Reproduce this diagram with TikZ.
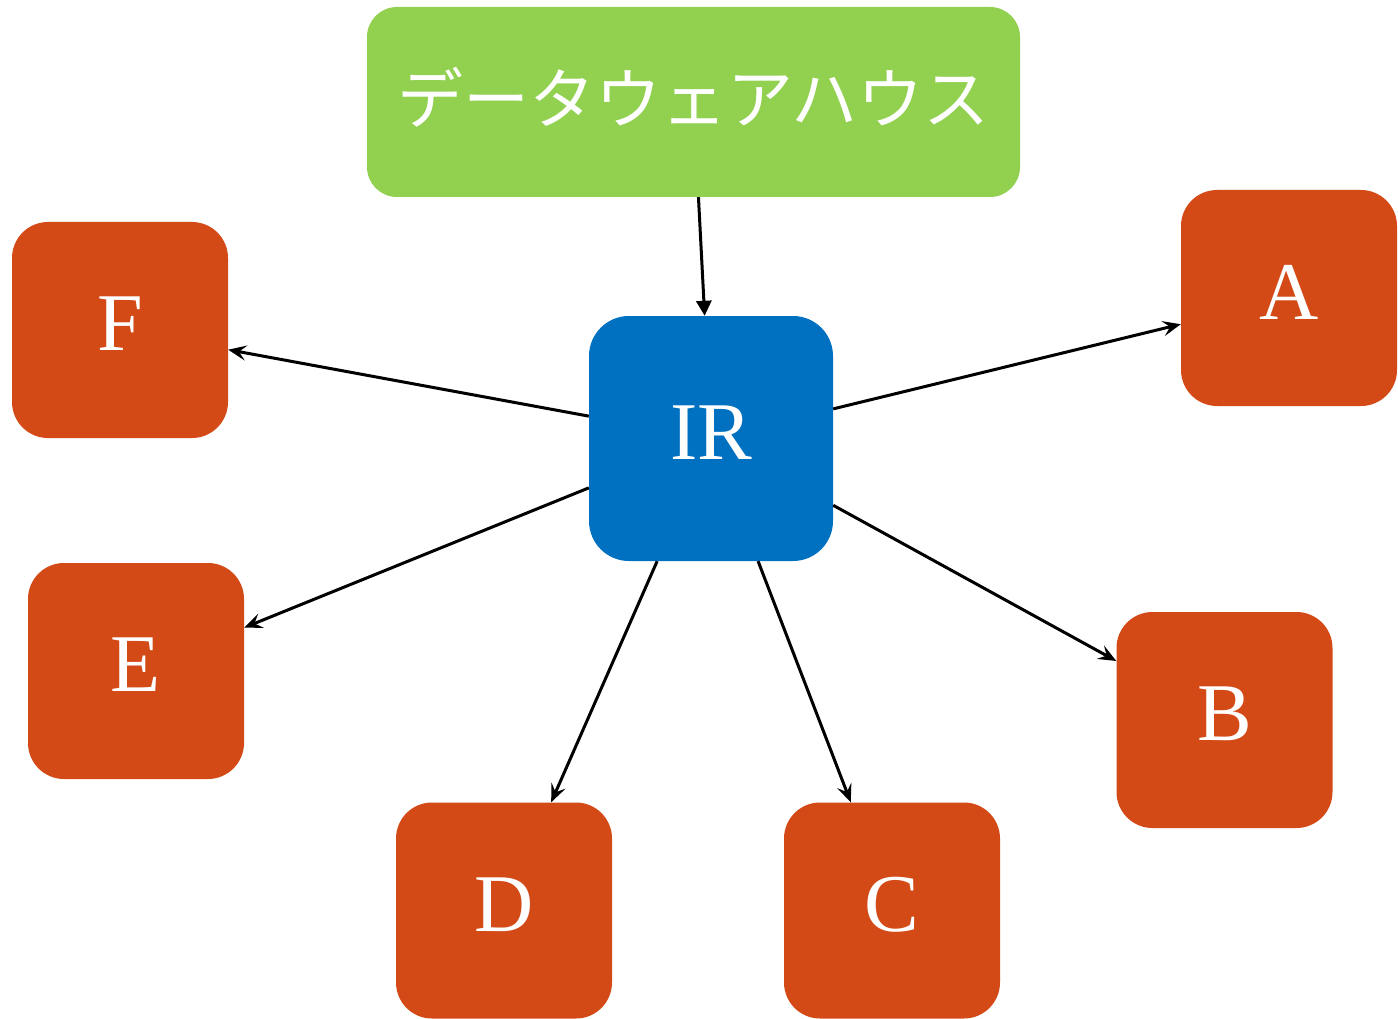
\documentclass[tikz,border=0pt]{standalone}
\usepackage{fontspec}
\setmainfont{Liberation Serif}
\newfontfamily\latinfont{Liberation Serif}
\newfontfamily\jpfont{Noto Sans CJK JP}
\usetikzlibrary{arrows.meta}
\definecolor{dwgreen}{HTML}{92D050}
\definecolor{irblue}{HTML}{0070C0}
\definecolor{martorange}{HTML}{D34A17}
\tikzset{
  box/.style={draw=none, inner sep=0pt, text=white, align=center},
  letter/.style={font=\latinfont\fontsize{82}{90}\selectfont, text depth=12pt},
  mart/.style={box, letter, fill=martorange, minimum width=216pt,
    minimum height=216pt, rounded corners=36pt},
  link/.style={line width=3pt, draw=black,
    -{Stealth[length=18pt,width=15pt,inset=7pt]}},
  feed/.style={line width=3pt, draw=black,
    -{Triangle[length=15pt,width=15pt]}}
}
\begin{document}
\begin{tikzpicture}[x=1pt,y=-1pt]
  \useasboundingbox (0,0) rectangle (1398,1019);
  % central warehouse and integration hub
  \node[box, fill=dwgreen, minimum width=653pt, minimum height=190pt,
        rounded corners=30pt, font=\jpfont\fontsize{66}{72}\selectfont,
        text depth=14pt]
        (wh) at (693.5,102) {データウェアハウス};
  \node[box, letter, fill=irblue, minimum width=244pt, minimum height=245pt,
        rounded corners=40pt]
        (ir) at (711,438.5) {IR};
  % data marts
  \node[mart] (a) at (1289,298) {A};
  \node[mart] (b) at (1224.5,720) {B};
  \node[mart] (c) at (892,910.5) {C};
  \node[mart] (d) at (504,910.5) {D};
  \node[mart] (e) at (136,671) {E};
  \node[mart] (f) at (120,330) {F};
  % connectors
  \draw[feed] (wh) -- (ir);
  \foreach \m in {a,b,c,d,e,f}
    \draw[link] (ir) -- (\m);
\end{tikzpicture}
\end{document}
